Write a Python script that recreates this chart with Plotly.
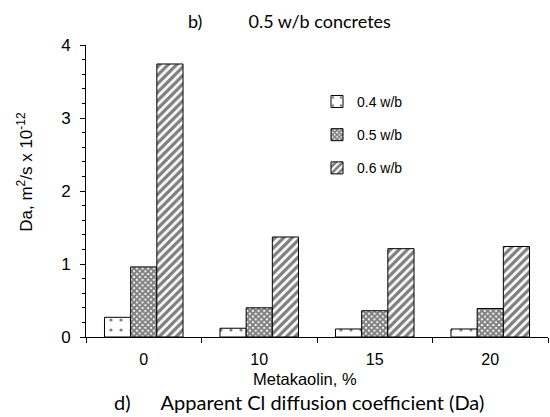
import plotly.graph_objects as go

categories = ["0", "10", "15", "20"]
series_names = ["0.4 w/b", "0.5 w/b", "0.6 w/b"]
v04 = [0.27, 0.12, 0.11, 0.11]
v05 = [0.96, 0.40, 0.36, 0.39]
v06 = [3.74, 1.37, 1.21, 1.24]
y_ticks = [0, 1, 2, 3, 4]

patterns = [
    dict(shape=".", size=10, solidity=0.08, fgcolor="black", bgcolor="white"),
    dict(shape="x", size=4, solidity=0.75, fgcolor="black", bgcolor="white"),
    dict(shape="/", size=6, solidity=0.55, fgcolor="black", bgcolor="white"),
]

SANS = "Arial"
fig = go.Figure()
for i, (name, vals) in enumerate(zip(series_names, [v04, v05, v06])):
    fig.add_trace(go.Bar(
        x=categories, y=vals, name=name, legendgroup=name,
        marker=dict(color="white", pattern=patterns[i],
                    line=dict(color="black", width=1)),
    ))

fig.update_layout(
    width=550, height=417,
    margin=dict(l=86, r=2, t=45, b=80),
    plot_bgcolor="white", paper_bgcolor="white",
    barmode="group", bargap=0.32, bargroupgap=0,
    showlegend=True,
    legend=dict(x=0.50, y=0.86, xanchor="left", yanchor="top",
                font=dict(family=SANS, size=14, color="black"),
                itemwidth=30, tracegroupgap=12, bgcolor="rgba(0,0,0,0)"),
    xaxis=dict(type="category", showline=True, linecolor="black", linewidth=1,
               ticks="outside", tickson="boundaries", ticklen=5, tickcolor="black",
               tickfont=dict(family=SANS, size=16, color="black"),
               showgrid=False, zeroline=False, ticklabelstandoff=8),
    yaxis=dict(range=[0, 4], tickvals=y_ticks, showline=True, linecolor="black", linewidth=1,
               ticks="outside", ticklen=5, tickcolor="black", tickfont=dict(family=SANS, size=17, color="black"),
               showgrid=False, zeroline=False, ticklabelstandoff=6,
               minor=dict(dtick=0.2, ticks="outside", ticklen=3, tickcolor="black")),
)

fig.add_annotation(text="Metakaolin, %", xref="paper", yref="paper", x=0.474, y=0, yshift=-41.5,
                   xanchor="center", yanchor="middle", showarrow=False,
                   font=dict(family=SANS, size=16.5, color="black"))
fig.add_annotation(text="Da, m<sup>2</sup>/s x 10<sup>-12</sup>", textangle=-90,
                   xref="paper", yref="paper", x=0, y=0.566, xshift=-61,
                   xanchor="center", yanchor="middle", showarrow=False,
                   font=dict(family=SANS, size=17, color="black"))
fig.add_annotation(text="b)" + "&nbsp;" * 10 + "0.5 w/b concretes",
                   xref="paper", yref="paper", x=0.44, y=1, yshift=24,
                   xanchor="center", yanchor="middle", showarrow=False,
                   font=dict(family="Lato", size=18, color="black"))
fig.add_annotation(text="d)" + "&nbsp;" * 6 + "Apparent Cl diffusion coefficient (Da)",
                   xref="paper", yref="paper", x=0.462, y=0, yshift=-65,
                   xanchor="center", yanchor="middle", showarrow=False,
                   font=dict(family="Lato", size=20, color="black"))

fig.write_html("out.html")
